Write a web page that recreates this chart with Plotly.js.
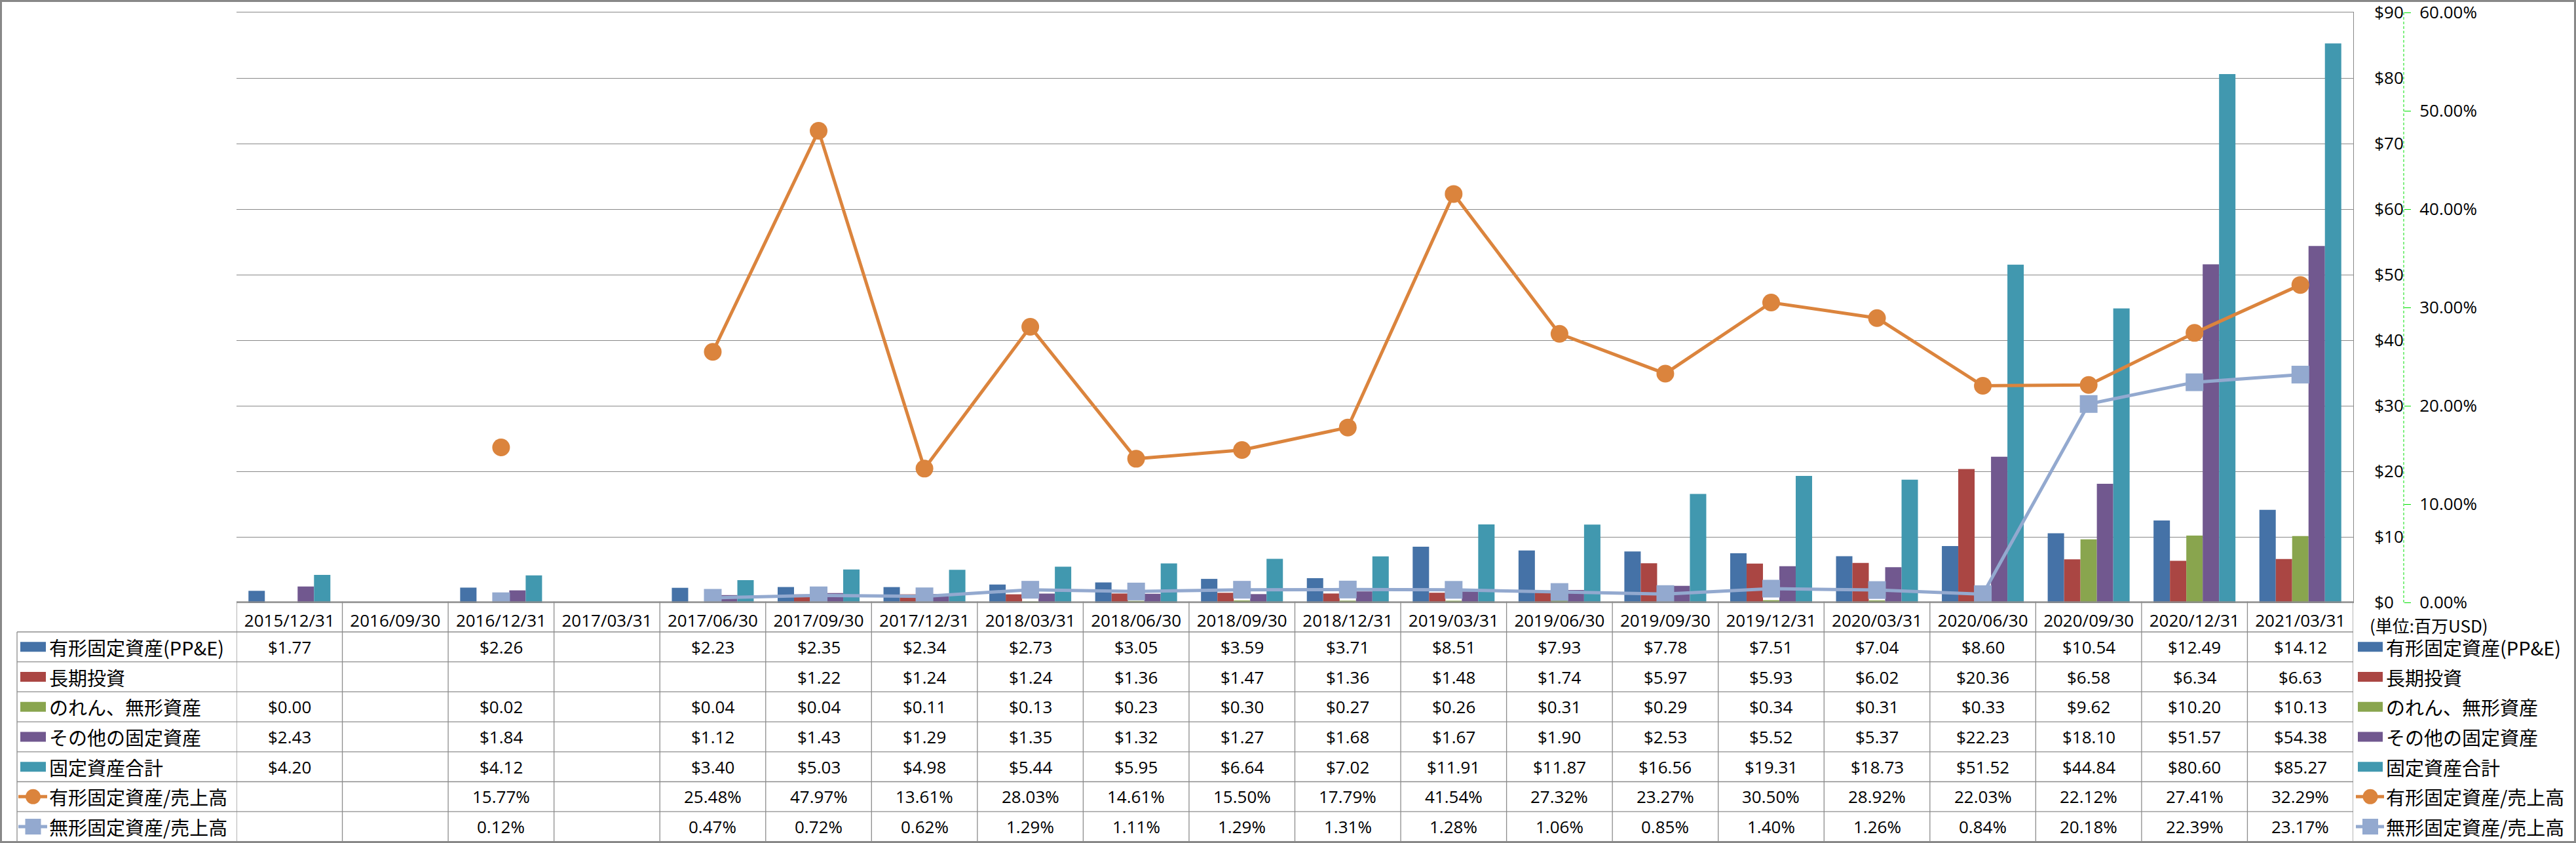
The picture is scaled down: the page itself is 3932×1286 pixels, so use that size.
<!DOCTYPE html>
<html><head><meta charset="utf-8">
<script src="https://cdn.plot.ly/plotly-3.0.1.min.js"></script>
<style>html,body{margin:0;padding:0;background:#fff;}#chart{width:3932px;height:1286px;}</style>
</head><body><div id="chart"></div>
<script>
// ---------------- data ----------------
const categories = ['2015/12/31','2016/09/30','2016/12/31','2017/03/31','2017/06/30','2017/09/30','2017/12/31','2018/03/31','2018/06/30','2018/09/30','2018/12/31','2019/03/31','2019/06/30','2019/09/30','2019/12/31','2020/03/31','2020/06/30','2020/09/30','2020/12/31','2021/03/31'];
const seriesNames = ['有形固定資産(PP&E)','長期投資','のれん、無形資産','その他の固定資産','固定資産合計','有形固定資産/売上高','無形固定資産/売上高'];
const ppe        = [1.77,null,2.26,null,2.23,2.35,2.34,2.73,3.05,3.59,3.71,8.51,7.93,7.78,7.51,7.04,8.60,10.54,12.49,14.12];
const ltInvest   = [null,null,null,null,null,1.22,1.24,1.24,1.36,1.47,1.36,1.48,1.74,5.97,5.93,6.02,20.36,6.58,6.34,6.63];
const goodwill   = [0.00,null,0.02,null,0.04,0.04,0.11,0.13,0.23,0.30,0.27,0.26,0.31,0.29,0.34,0.31,0.33,9.62,10.20,10.13];
const otherFixed = [2.43,null,1.84,null,1.12,1.43,1.29,1.35,1.32,1.27,1.68,1.67,1.90,2.53,5.52,5.37,22.23,18.10,51.57,54.38];
const totalFixed = [4.20,null,4.12,null,3.40,5.03,4.98,5.44,5.95,6.64,7.02,11.91,11.87,16.56,19.31,18.73,51.52,44.84,80.60,85.27];
const ppeToSales = [null,null,15.77,null,25.48,47.97,13.61,28.03,14.61,15.50,17.79,41.54,27.32,23.27,30.50,28.92,22.03,22.12,27.41,32.29]; // %
const intToSales = [null,null,0.12,null,0.47,0.72,0.62,1.29,1.11,1.29,1.31,1.28,1.06,0.85,1.40,1.26,0.84,20.18,22.39,23.17]; // %
const unitLabel = '(単位:百万USD)';

// ---------------- style ----------------
const W = 3932, H = 1286;
const px = p => p / W;
const py = p => 1 - p / H;
const colors = ['#4572A7','#AA4643','#89A54E','#71588F','#4198AF','#DB843D','#93A9CF'];
const latin = 'Open Sans, DejaVu Sans, sans-serif';
const cjk = 'Noto Sans CJK JP, Noto Sans, sans-serif';
const gridGray = '#888888';

const barSeries = [ppe, ltInvest, goodwill, otherFixed, totalFixed];
const ratioSeries = [ppeToSales, intToSales];

const traces = [];
barSeries.forEach((vals, i) => {
  traces.push({type:'bar', x:categories, y:vals, name:seriesNames[i], xaxis:'x', yaxis:'y',
    marker:{color:colors[i], line:{width:0}}, hoverinfo:'none', showlegend:false});
});
const symbols = ['circle','square'];
ratioSeries.forEach((vals, j) => {
  traces.push({type:'scatter', mode:'lines+markers', x:categories, y:vals.map(v => v == null ? null : v/100),
    name:seriesNames[5+j], xaxis:'x', yaxis:'y2', connectgaps:false,
    line:{color:colors[5+j], width:5}, marker:{symbol:symbols[j], size:27, color:colors[5+j]},
    hoverinfo:'none', showlegend:false});
});

// geometry (pixels)
const plotL = 361, plotR = 3592, plotT = 19, plotB = 919;
const headTop = 918, rowTop = 964, rowH = 45.7, nRows = 7, tableBot = rowTop + rowH*nRows;
const labelColL = 26;
const y2AxisX = 3669;

const shapes = [];
const annotations = [];
const tblLine = {color:'#8c8c8c', width:1.3};

// horizontal table lines
shapes.push({type:'line', xref:'paper', yref:'paper', x0:px(plotL), x1:px(plotR), y0:py(headTop), y1:py(headTop), line:tblLine});
for (let r = 0; r <= nRows; r++) {
  const yy = rowTop + r*rowH;
  shapes.push({type:'line', xref:'paper', yref:'paper', x0:px(labelColL), x1:px(plotR), y0:py(yy), y1:py(yy), line:tblLine});
}
// vertical table lines on category boundaries
for (let i = 0; i <= categories.length; i++) {
  shapes.push({type:'line', xref:'x', yref:'paper', x0:i-0.5, x1:i-0.5, y0:py(headTop), y1:py(tableBot), line:tblLine});
}
shapes.push({type:'line', xref:'paper', yref:'paper', x0:px(labelColL), x1:px(labelColL), y0:py(rowTop), y1:py(tableBot), line:tblLine});

// secondary axis dashed line
shapes.push({type:'line', xref:'paper', yref:'paper', x0:px(y2AxisX), x1:px(y2AxisX), y0:py(plotB), y1:py(plotT),
  line:{color:'#00e000', width:1, dash:'4px,3px'}});

// outer border
shapes.push({type:'rect', xref:'paper', yref:'paper', x0:px(1.5), x1:px(W-1.5), y0:py(H-1.5), y1:py(1.5),
  line:{color:'#888888', width:3}, fillcolor:'rgba(0,0,0,0)'});

// table values
const rowsData = [ppe, ltInvest, goodwill, otherFixed, totalFixed, ppeToSales, intToSales];
rowsData.forEach((vals, r) => {
  const cy = rowTop + rowH*r + rowH/2;
  vals.forEach((v, i) => {
    if (v == null) return;
    const txt = r < 5 ? '$' + v.toFixed(2) : v.toFixed(2) + '%';
    annotations.push({xref:'x', yref:'paper', x:i, y:py(cy), text:txt, showarrow:false,
      xanchor:'center', yanchor:'middle', font:{family:latin, size:26, color:'#000'}});
  });
});

// legends (table-left and right)
function legendEntry(r, swL, swR, textX) {
  const cy = rowTop + rowH*r + rowH/2;
  const c = colors[r];
  if (r < 5) {
    shapes.push({type:'rect', xref:'paper', yref:'paper', x0:px(swL), x1:px(swR), y0:py(cy+7.5), y1:py(cy-7.5),
      line:{width:0}, fillcolor:c});
  } else {
    const cx = (swL + swR)/2;
    shapes.push({type:'line', xref:'paper', yref:'paper', x0:px(swL-3), x1:px(swR+2), y0:py(cy), y1:py(cy),
      line:{color:c, width:5}});
    if (r === 5) {
      shapes.push({type:'circle', xref:'paper', yref:'paper', x0:px(cx-11.5), x1:px(cx+11.5), y0:py(cy+11.5), y1:py(cy-11.5),
        line:{width:0}, fillcolor:c});
    } else {
      shapes.push({type:'rect', xref:'paper', yref:'paper', x0:px(cx-12), x1:px(cx+12), y0:py(cy+12), y1:py(cy-12),
        line:{width:0}, fillcolor:c});
    }
  }
  annotations.push({xref:'paper', yref:'paper', x:px(textX), y:py(cy), text:seriesNames[r], showarrow:false,
    xanchor:'left', yanchor:'middle', font:{family:cjk, size:29, color:'#000'}});
}
for (let r = 0; r < nRows; r++) {
  legendEntry(r, 31, 70, 73);
  legendEntry(r, 3599, 3637, 3640);
}
annotations.push({xref:'paper', yref:'paper', x:px(3707), y:py(953), text:unitLabel, showarrow:false,
  xanchor:'center', yanchor:'middle', font:{family:cjk, size:26, color:'#000'}});

const layout = {
  width: W, height: H, autosize:false,
  margin:{l:0, r:0, t:0, b:0, pad:0},
  paper_bgcolor:'#ffffff', plot_bgcolor:'rgba(0,0,0,0)',
  barmode:'group', bargap:0.226, bargroupgap:0,
  showlegend:false,
  xaxis:{domain:[px(plotL), px(plotR)], type:'category', categoryorder:'array', categoryarray:categories,
    range:[-0.5, categories.length-0.5], showgrid:false, zeroline:false,
    showline:true, mirror:true, linecolor:gridGray, linewidth:1,
    ticks:'', tickfont:{family:latin, size:26, color:'#000'}, ticklabelstandoff:5, anchor:'y', fixedrange:true},
  yaxis:{domain:[py(plotB), py(plotT)], range:[0,90], tick0:0, dtick:10, side:'right', anchor:'x',
    showline:true, linecolor:gridGray, linewidth:1, showgrid:true, gridcolor:gridGray, gridwidth:1,
    zeroline:false, tickprefix:'$', ticks:'', tickfont:{family:latin, size:26, color:'#000'},
    ticklabelstandoff:26, fixedrange:true},
  yaxis2:{overlaying:'y', side:'right', anchor:'free', position:px(y2AxisX), range:[0,0.6], tick0:0, dtick:0.1,
    tickformat:'.2%', showgrid:false, zeroline:false, showline:false,
    ticks:'outside', ticklen:10, tickwidth:1, tickcolor:'#00e000',
    tickfont:{family:latin, size:26, color:'#000'}, ticklabelstandoff:8, fixedrange:true},
  yaxis3:{overlaying:'y', side:'right', anchor:'x', range:[0,0.6], tickvals:[0.1,0.3,0.5],
    showticklabels:false, ticks:'', showgrid:true, gridcolor:'#00e000', griddash:'4px,3px', gridwidth:1,
    zeroline:false, showline:false, fixedrange:true},
  shapes: shapes,
  annotations: annotations
};

Plotly.newPlot('chart', traces, layout, {staticPlot:true, displayModeBar:false});
</script>
</body></html>
